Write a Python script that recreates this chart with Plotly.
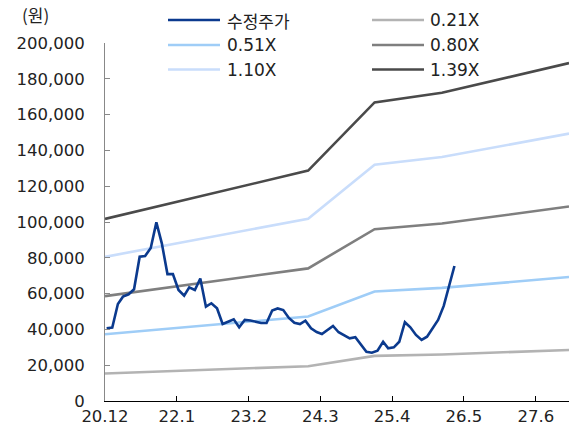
import plotly.graph_objects as go
import pandas as pd

# ---- data ----
price_start = "2020-12-10"
price = [40600, 41000, 54200, 58300, 59600, 62400, 80600, 81000, 85500, 99800,
         88100, 70900, 70900, 62000, 58800, 63500, 62000, 68400, 52700, 54600,
         51800, 43000, 44300, 45600, 41200, 45300, 45000, 44400, 43600, 43600,
         50600, 51700, 50800, 46400, 43700, 43000, 44900, 40600, 38500, 37400,
         39700, 41900, 38400, 36900, 35000, 35600, 31300, 27500, 27000, 28100,
         33100, 29400, 30000, 33100, 44000, 41200, 36900, 34100, 35900, 40900,
         45300, 53100, 64800, 75400]
price_dates = pd.date_range("2020-12-01", periods=len(price), freq="MS") + pd.Timedelta(days=9)

bps_dates = ["2020-12-01", "2023-12-25", "2024-12-25", "2025-12-31", "2027-12-01"]
bps = [73200, 92600, 120000, 123900, 135800]

multiples = [0.21, 0.51, 0.80, 1.10, 1.39]
band_names = ["0.21X", "0.51X", "0.80X", "1.10X", "1.39X"]
band_colors = ["#b3b3b3", "#9fcdf7", "#7f7f7f", "#c9ddfb", "#4a4a4a"]
price_name = "수정주가"
price_color = "#0b3a8e"

tick_dates = ["2020-12-01", "2022-01-01", "2023-02-01", "2024-03-01",
              "2025-04-01", "2026-05-01", "2027-06-01"]
tick_text = ["20.12", "22.1", "23.2", "24.3", "25.4", "26.5", "27.6"]
y_ticks = list(range(0, 200001, 20000))

FONT = "DejaVu Sans, Liberation Sans, sans-serif"
KFONT = "Noto Sans CJK KR, sans-serif"
TXT = "#222"

fig = go.Figure()
for m, nm, c in zip(multiples, band_names, band_colors):
    fig.add_trace(go.Scatter(x=bps_dates, y=[b * m for b in bps], mode="lines",
                             name=nm, line=dict(color=c, width=2.6),
                             showlegend=False))
fig.add_trace(go.Scatter(x=price_dates, y=price, mode="lines", name=price_name,
                         line=dict(color=price_color, width=2.6), showlegend=False))

# ---- manual legend (2 columns x 3 rows) ----
legend_items = [(price_name, price_color)] + list(zip(band_names, band_colors))
plot_l, plot_w, plot_b, plot_h = 105, 464, 401, 358
col_x = [(168, 220, 227), (372, 424, 430)]
row_y = [20, 45, 69.5]
shapes = []
annotations = []
for i, (nm, c) in enumerate(legend_items):
    cx = col_x[i % 2]
    ry = row_y[i // 2]
    yp = (plot_b - ry) / plot_h
    shapes.append(dict(type="line", xref="paper", yref="paper",
                       x0=(cx[0] - plot_l) / plot_w, x1=(cx[1] - plot_l) / plot_w,
                       y0=yp, y1=yp, line=dict(color=c, width=2.6)))
    annotations.append(dict(xref="paper", yref="paper", x=(cx[2] - plot_l) / plot_w - 0.004,
                            y=yp, text=nm, showarrow=False, xanchor="left",
                            yanchor="middle",
                            font=dict(size=17, color=TXT,
                                      family=KFONT if nm == price_name else FONT)))
annotations.append(dict(xref="paper", yref="paper", x=(20 - plot_l) / plot_w,
                        y=(plot_b - 15) / plot_h, text="(원)", showarrow=False,
                        xanchor="left", yanchor="middle",
                        font=dict(size=17, color=TXT, family=KFONT)))

fig.update_layout(
    width=569, height=432,
    margin=dict(l=105, r=0, t=43, b=31),
    paper_bgcolor="white", plot_bgcolor="white",
    shapes=shapes, annotations=annotations,
    font=dict(family=FONT, size=16, color=TXT),
)
fig.update_xaxes(type="date", range=["2020-12-01", "2027-12-01"],
                 tickvals=tick_dates, ticktext=tick_text,
                 showline=True, linecolor="#000", linewidth=1,
                 ticks="inside", ticklen=5, tickcolor="#000",
                 showgrid=False, zeroline=False,
                 tickfont=dict(size=16.5, color=TXT, family=FONT))
fig.update_yaxes(range=[0, 200000], tickvals=y_ticks,
                 ticktext=[f"{v:,}" for v in y_ticks],
                 showline=True, linecolor="#888", linewidth=1,
                 ticks="inside", ticklen=5, tickcolor="#888",
                 showgrid=False, zeroline=False, ticklabelstandoff=16,
                 tickfont=dict(size=16.5, color=TXT, family=FONT))

fig.write_html("out.html")
